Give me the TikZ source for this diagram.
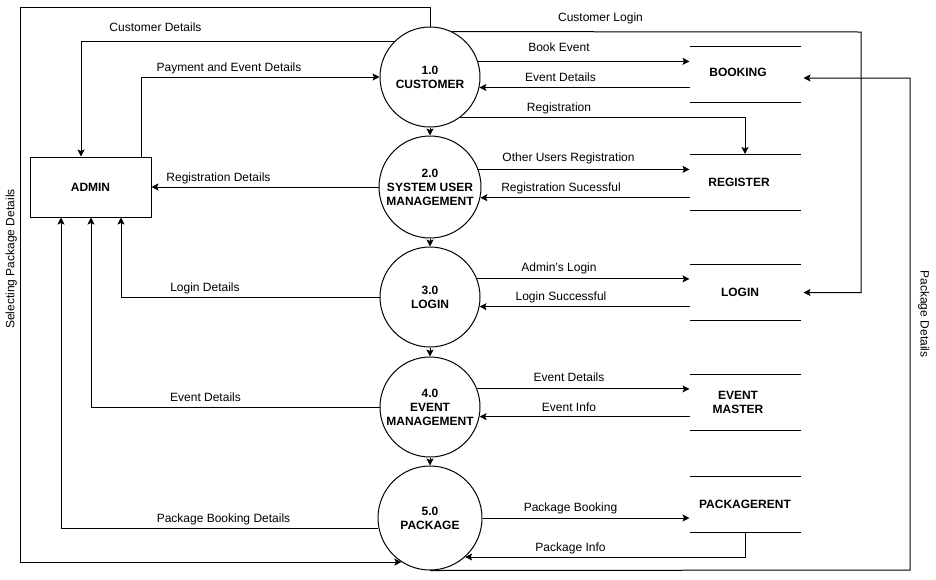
\documentclass[tikz,border=0pt]{standalone}
\usepackage{fontspec}
\setmainfont{Liberation Sans}
\usetikzlibrary{arrows.meta}
\begin{document}
\begin{tikzpicture}[x=1pt,y=-1pt,line width=1pt,
  txt/.style={font=\fontsize{12}{14}\selectfont,inner sep=0pt},
  lbl/.style={txt,text height=8.6pt,text depth=0pt},
  proc/.style={circle,draw,inner sep=0pt,align=center,font=\fontsize{12}{14}\selectfont\bfseries},
  entity/.style={rectangle,draw,minimum width=121pt,minimum height=60pt,inner sep=0pt,font=\fontsize{12}{14}\selectfont\bfseries},
  store/.style={rectangle,minimum width=110pt,minimum height=55pt,inner sep=0pt},
  storetext/.style={font=\fontsize{12}{14}\selectfont\bfseries,align=center,inner sep=0pt},
  arr/.style={-{Stealth[length=7pt,width=7pt,inset=1.5pt]}}]

\useasboundingbox[fill=white] (0,0) rectangle (936,579);

% processes
\node[proc,minimum size=100pt] (c1) at (430,77)  {1.0\\CUSTOMER};
\node[proc,minimum size=102pt] (c2) at (430,187) {2.0\\SYSTEM USER\\MANAGEMENT};
\node[proc,minimum size=100pt] (c3) at (430,297) {3.0\\LOGIN};
\node[proc,minimum size=100pt] (c4) at (430,407) {4.0\\EVENT\\MANAGEMENT};
\node[proc,minimum size=104pt] (c5) at (430,518) {5.0\\PACKAGE};

% external entity
\node[entity] (admin) at (90.5,187) {ADMIN};

% data stores
\node[store] (bk) at (745,74.5)  {};
\node[store] (rg) at (745,182)   {};
\node[store] (lg) at (745,292.5) {};
\node[store] (em) at (745,402.5) {};
\node[store] (pk) at (745,504.5) {};
\foreach \s in {bk,rg,lg,em,pk}{
  \draw (\s.north west) -- (\s.north east);
  \draw (\s.south west) -- (\s.south east);
}
\node[storetext] (bkt) at ([xshift=-7pt,yshift=2.5pt]bk.center) {BOOKING};
\node[storetext] (rgt) at ([xshift=-6pt]rg.center) {REGISTER};
\node[storetext] (lgt) at ([xshift=-5pt]lg.center) {LOGIN};
\node[storetext] (emt) at ([xshift=-7pt]em.center) {EVENT\\MASTER};
\node[storetext] (pkt) at (pk.center) {PACKAGERENT};

% corner points of the long routes
\coordinate (tl) at (20,7);
\coordinate (tr) at (861,32);
\coordinate (br) at (910,570);

% process chain
\draw[arr] (c1.south) -- (c2.north);
\draw[arr] (c2.south) -- (c3.north);
\draw[arr] (c3.south) -- (c4.north);
\draw[arr] (c4.south) -- (c5.north);

% customer flows
\draw[arr] (c1.135.6) -| ([xshift=-9.5pt]admin.north);
\draw[arr] ([xshift=50.5pt]admin.north) |- (c1.west);
\draw[arr] (c1.north) |- (tl) |- (c5.237.8);
\draw[arr] (c1.64) -- (tr) |- ([xshift=3pt]lg.east);
\draw[arr] (c1.18.7) -- (bk.west |- c1.18.7);
\draw[arr] (bk.west |- c1.-12.7) -- (c1.-12.7);
\draw[arr] (c1.-53.1) -| (rg.north);
\draw[arr] (c5.south) -- (br) |- ([xshift=3pt,yshift=-3.5pt]bk.east);

% system user management
\draw[arr] (c2.20.7) -- (rg.west |- c2.20.7);
\draw[arr] (rg.west |- c2.-12.4) -- (c2.-12.4);
\draw[arr] (c2.west) -- (admin.east);

% login
\draw[arr] (c3.21.1) -- (lg.west |- c3.21.1);
\draw[arr] (lg.west |- c3.-11.5) -- (c3.-11.5);
\draw[arr] (c3.west) -| ([xshift=30.5pt]admin.south);

% event management
\draw[arr] (c4.21.1) -- (em.west |- c4.21.1);
\draw[arr] (em.west |- c4.-11.5) -- (c4.-11.5);
\draw[arr] (c4.west) -| ([xshift=0.5pt]admin.south);

% package
\draw[arr] (c5.east) -- (pk.west |- c5.east);
\draw[arr] (pk.south) |- (c5.-48.6);
\draw[arr] (c5.191.1) -| ([xshift=-29.5pt]admin.south);

% flow labels
\node[lbl] (l1)  at (155.5,26.7) {Customer Details};
\node[lbl] (l2)  at (229,66.7)   {Payment and Event Details};
\node[lbl] (l3)  at (600.5,16.7) {Customer Login};
\node[lbl] (l4)  at (559,46.7)   {Book Event};
\node[lbl] (l5)  at (560.5,76.7) {Event Details};
\node[lbl] (l6)  at (559,106.7)  {Registration};
\node[lbl] (l7)  at (568.5,156.7) {Other Users Registration};
\node[lbl] (l8)  at (561,186.7)  {Registration Sucessful};
\node[lbl] (l9)  at (218.5,176.7) {Registration Details};
\node[lbl] (l10) at (559,266.7)  {Admin's Login};
\node[lbl] (l11) at (561,296)    {Login Successful};
\node[lbl] (l12) at (205,286.7)  {Login Details};
\node[lbl] (l13) at (205.5,396.7) {Event Details};
\node[lbl] (l14) at (569,376.7)  {Event Details};
\node[lbl] (l15) at (569,406.7)  {Event Info};
\node[lbl] (l16) at (223.5,517.7) {Package Booking Details};
\node[lbl] (l17) at (570.5,506.7) {Package Booking};
\node[lbl] (l18) at (570.5,546.7) {Package Info};
\node[lbl,rotate=90]  (l19) at (10,259)  {Selecting Package Details};
\node[lbl,rotate=-90] (l20) at (925,314)  {Package Details};
\end{tikzpicture}
\end{document}
